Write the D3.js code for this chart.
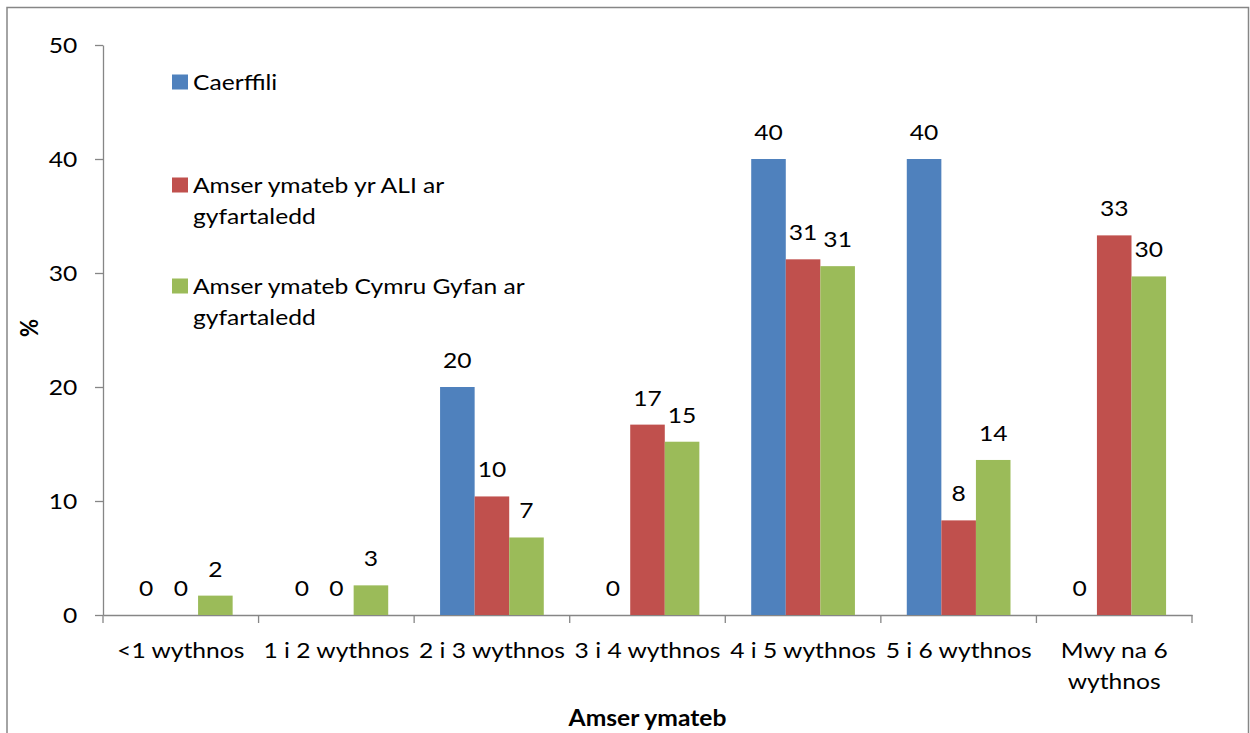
<!DOCTYPE html>
<html>
<head>
<meta charset="utf-8">
<script src="https://cdn.jsdelivr.net/npm/d3@7"></script>
<style>
  body { margin: 0; background: #fff; }
  text { font-family: Lato, "Open Sans", sans-serif; fill: #000; }
  .axis path, .axis line { stroke: #868686; stroke-width: 1.3; }
</style>
</head>
<body>
<script>
const categories = ["<1 wythnos", "1 i 2 wythnos", "2 i 3 wythnos", "3 i 4 wythnos",
    "4 i 5 wythnos", "5 i 6 wythnos", "Mwy na 6 wythnos"];
const seriesNames = ["Caerffili", "Amser ymateb yr ALI ar gyfartaledd",
    "Amser ymateb Cymru Gyfan ar gyfartaledd"];
const caerffili = [0, 0, 20, 0, 40, 40, 0];
const aliAverage = [0, 0, 10.4, 16.7, 31.2, 8.3, 33.3];
const walesAverage = [1.7, 2.6, 6.8, 15.2, 30.6, 13.6, 29.7];
const yTicks = [0, 10, 20, 30, 40, 50];
const colors = ["#4F81BD", "#C0504D", "#9BBB59"];

const values = [caerffili, aliAverage, walesAverage];
const data = categories.map((c, i) => ({
    cat: c,
    vals: values.map((v, s) => ({ s: s, v: v[i] }))
}));

// text in the picture is a bit wider than tall, so stretch it horizontally
const S = 1.12;
const fs = 22;

const width = 1250, height = 733;
const plot = { left: 103, right: 1192, top: 45, bottom: 615 };

const svg = d3.select("body").append("svg")
    .attr("width", width)
    .attr("height", height);

// chart border
svg.append("rect")
    .attr("x", 7).attr("y", 7.5)
    .attr("width", 1241.5).attr("height", 800)
    .attr("fill", "none")
    .attr("stroke", "#868686")
    .attr("stroke-width", 1.5);

const x0 = d3.scaleBand().domain(categories).range([plot.left, plot.right]);
const bw = x0.bandwidth();
const x1 = d3.scaleBand().domain([0, 1, 2]).range([bw / 6, bw * 5 / 6]);
const y = d3.scaleLinear().domain([0, 50]).range([plot.bottom, plot.top]);

// y axis
const yAx = svg.append("g")
    .attr("class", "axis")
    .attr("transform", "translate(" + plot.left + ",0)")
    .call(d3.axisLeft(y).tickValues(yTicks).tickSize(8).tickSizeOuter(0).tickPadding(15));
yAx.selectAll("text")
    .style("font-size", fs + "px")
    .attr("transform", "scale(" + S + ",1)");

// x axis: labels at centre, ticks on category edges
const xAx = svg.append("g")
    .attr("class", "axis")
    .attr("transform", "translate(0," + plot.bottom + ")")
    .call(d3.axisBottom(x0).tickSize(0).tickSizeOuter(0).tickPadding(27));
xAx.selectAll("text")
    .style("font-size", fs + "px")
    .attr("transform", "scale(" + S + ",1)")
    .each(function (d) {
        const t = d3.select(this);
        if (this.getComputedTextLength() * S > bw - 6) {
            const words = d.split(" ");
            const last = words.pop();
            t.text(null);
            t.append("tspan").attr("x", 0).attr("dy", "0.71em").text(words.join(" "));
            t.append("tspan").attr("x", 0).attr("dy", 31).text(last);
        }
    });
xAx.selectAll(".edge")
    .data(d3.range(categories.length + 1))
    .join("line")
    .attr("class", "edge")
    .attr("x1", i => plot.left + i * x0.step())
    .attr("x2", i => plot.left + i * x0.step())
    .attr("y1", 0).attr("y2", 8);

// bars
const groups = svg.selectAll(".grp")
    .data(data)
    .join("g")
    .attr("class", "grp")
    .attr("transform", d => "translate(" + x0(d.cat) + ",0)");

groups.selectAll("rect")
    .data(d => d.vals)
    .join("rect")
    .attr("x", d => x1(d.s))
    .attr("y", d => y(d.v))
    .attr("width", x1.bandwidth())
    .attr("height", d => y(0) - y(d.v))
    .attr("fill", d => colors[d.s]);

groups.selectAll(".lbl")
    .data(d => d.vals)
    .join("text")
    .attr("class", "lbl")
    .attr("transform", d => "translate(" + (x1(d.s) + x1.bandwidth() / 2) + "," + (y(d.v) - 19) + ") scale(" + S + ",1)")
    .attr("text-anchor", "middle")
    .style("font-size", fs + "px")
    .text(d => d3.format(".0f")(d.v));

// legend
const legendY = [82, 185, 286];
const legendLines = [["Caerffili"], ["Amser ymateb yr ALI ar", "gyfartaledd"],
    ["Amser ymateb Cymru Gyfan ar", "gyfartaledd"]];
const legend = svg.selectAll(".leg")
    .data(seriesNames)
    .join("g")
    .attr("class", "leg")
    .attr("transform", (d, i) => "translate(172," + legendY[i] + ")");
legend.append("rect")
    .attr("x", 0).attr("y", -7.5)
    .attr("width", 16).attr("height", 15)
    .attr("fill", (d, i) => colors[i]);
legend.append("text")
    .attr("transform", "translate(21,7.5) scale(" + S + ",1)")
    .style("font-size", fs + "px")
    .selectAll("tspan")
    .data((d, i) => legendLines[i])
    .join("tspan")
    .attr("x", 0)
    .attr("dy", (d, j) => j === 0 ? 0 : 32)
    .text(d => d);

// axis titles
svg.append("text")
    .attr("transform", "translate(" + ((plot.left + plot.right) / 2) + ",726) scale(" + S + ",1)")
    .attr("text-anchor", "middle")
    .style("font-size", fs + "px")
    .style("font-weight", "bold")
    .text("Amser ymateb");

svg.append("text")
    .attr("transform", "translate(38,328) scale(" + S + ",1) rotate(-90)")
    .attr("text-anchor", "middle")
    .style("font-size", fs + "px")
    .style("font-weight", "bold")
    .text("%");
</script>
</body>
</html>
